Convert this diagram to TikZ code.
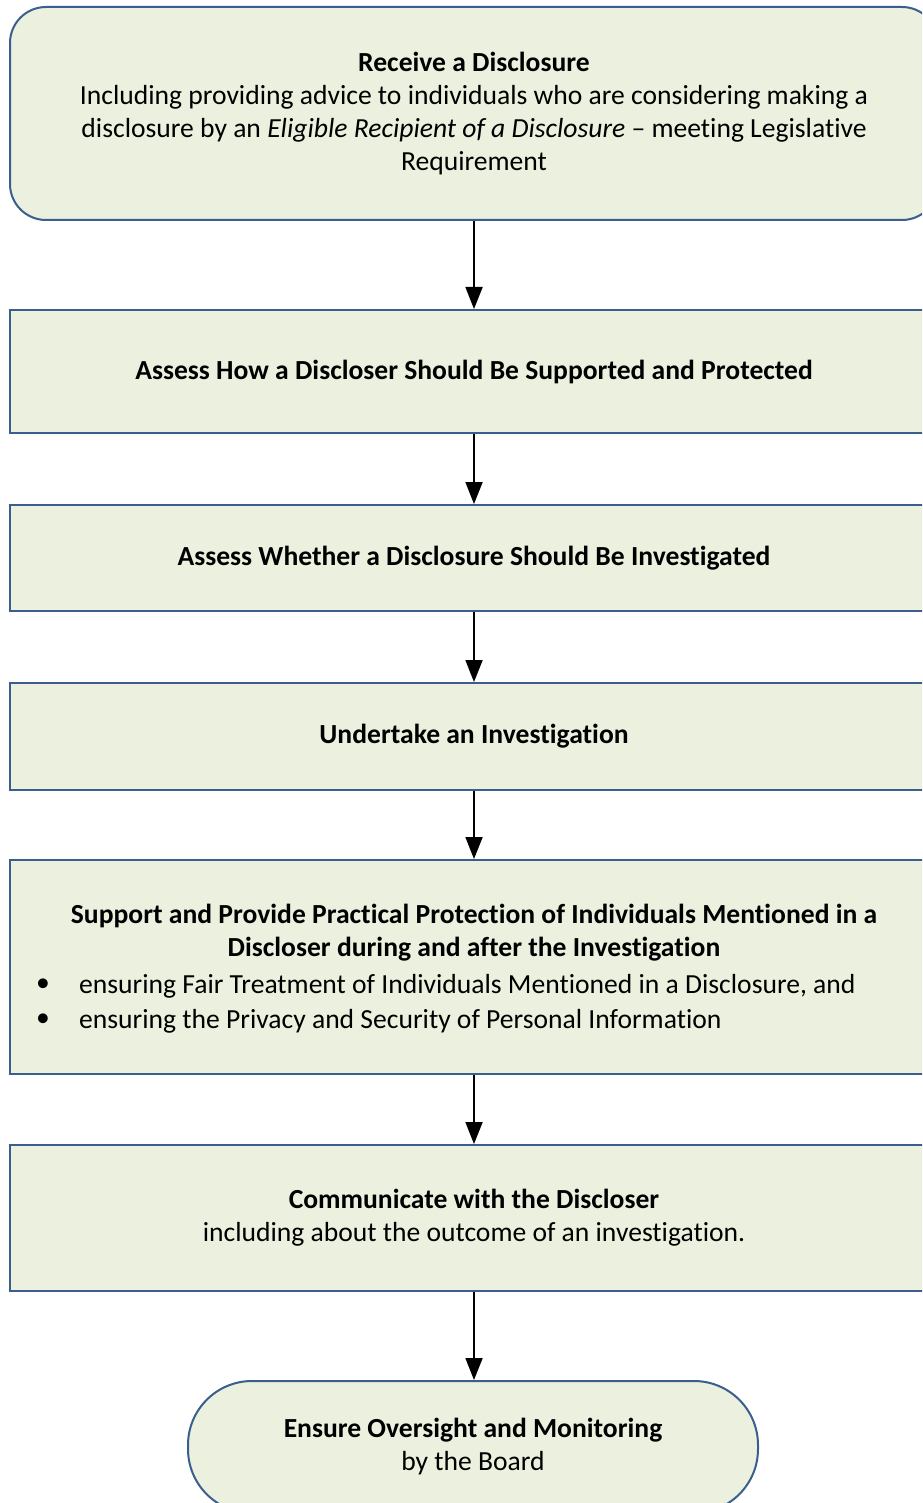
\documentclass[tikz,border=0pt]{standalone}
\usepackage{fontspec}
\setmainfont{Carlito}[Ligatures=NoCommon]
\usetikzlibrary{arrows.meta}
\definecolor{boxfill}{HTML}{EBF1DE}
\definecolor{boxline}{HTML}{3A5F8F}
\begin{document}
\begin{tikzpicture}[x=1pt,y=-1pt,
  stepbox/.style={draw=boxline, fill=boxfill, line width=2pt, minimum width=928pt, align=center, inner sep=0pt},
  txt/.style={align=center, inner sep=0pt},
  flow/.style={line width=1.8pt, -{Triangle[length=22pt,width=17pt]}},
  font=\fontsize{27.6}{33}\selectfont]
\useasboundingbox (0,0) rectangle (922,1503);
\clip (0,0) rectangle (922,1503);
\fill[white] (0,0) rectangle (922,1503);

\node[stepbox, rounded corners=36pt, minimum height=213pt] (n1) at (474,113.5)
  {\textbf{Receive a Disclosure}\\
   Including providing advice to individuals who are considering making a\\
   disclosure by an \textit{Eligible Recipient of a Disclosure} -- meeting Legislative\\
   Requirement};

\node[stepbox, minimum height=123pt] (n2) at (474,371.5)
  {\textbf{Assess How a Discloser Should Be Supported and Protected}};

\node[stepbox, minimum height=106pt] (n3) at (474,558)
  {\textbf{Assess Whether a Disclosure Should Be Investigated}};

\node[stepbox, minimum height=107pt] (n4) at (474,736.5)
  {\textbf{Undertake an Investigation}};

\node[stepbox, minimum height=214pt] (n5) at (474,967) {};
\node[txt, font=\fontsize{27.6}{33}\selectfont\bfseries] (n5h) at (474,933)
  {Support and Provide Practical Protection of Individuals Mentioned in a\\
   Discloser during and after the Investigation};
\node[txt, anchor=west] (n5a) at (79,986) {ensuring Fair Treatment of Individuals Mentioned in a Disclosure, and};
\node[txt, anchor=west] (n5b) at (79,1021) {ensuring the Privacy and Security of Personal Information};
\node[txt] (b5a) at (43,985) {•};
\node[txt] (b5b) at (43,1020) {•};

\node[stepbox, minimum height=146pt] (n6) at (474,1218)
  {\textbf{Communicate with the Discloser}\\
   including about the outcome of an investigation.};

\node[stepbox, minimum width=570pt, minimum height=132pt, rounded corners=64pt] (n7) at (473,1447)
  {\textbf{Ensure Oversight and Monitoring}\\
   by the Board};

\draw[flow] (n1.south -| 474,0) -- (n2.north -| 474,0);
\draw[flow] (n2.south -| 474,0) -- (n3.north -| 474,0);
\draw[flow] (n3.south -| 474,0) -- (n4.north -| 474,0);
\draw[flow] (n4.south -| 474,0) -- (n5.north -| 474,0);
\draw[flow] (n5.south -| 474,0) -- (n6.north -| 474,0);
\draw[flow] (n6.south -| 474,0) -- (n7.north -| 474,0);
\end{tikzpicture}
\end{document}
